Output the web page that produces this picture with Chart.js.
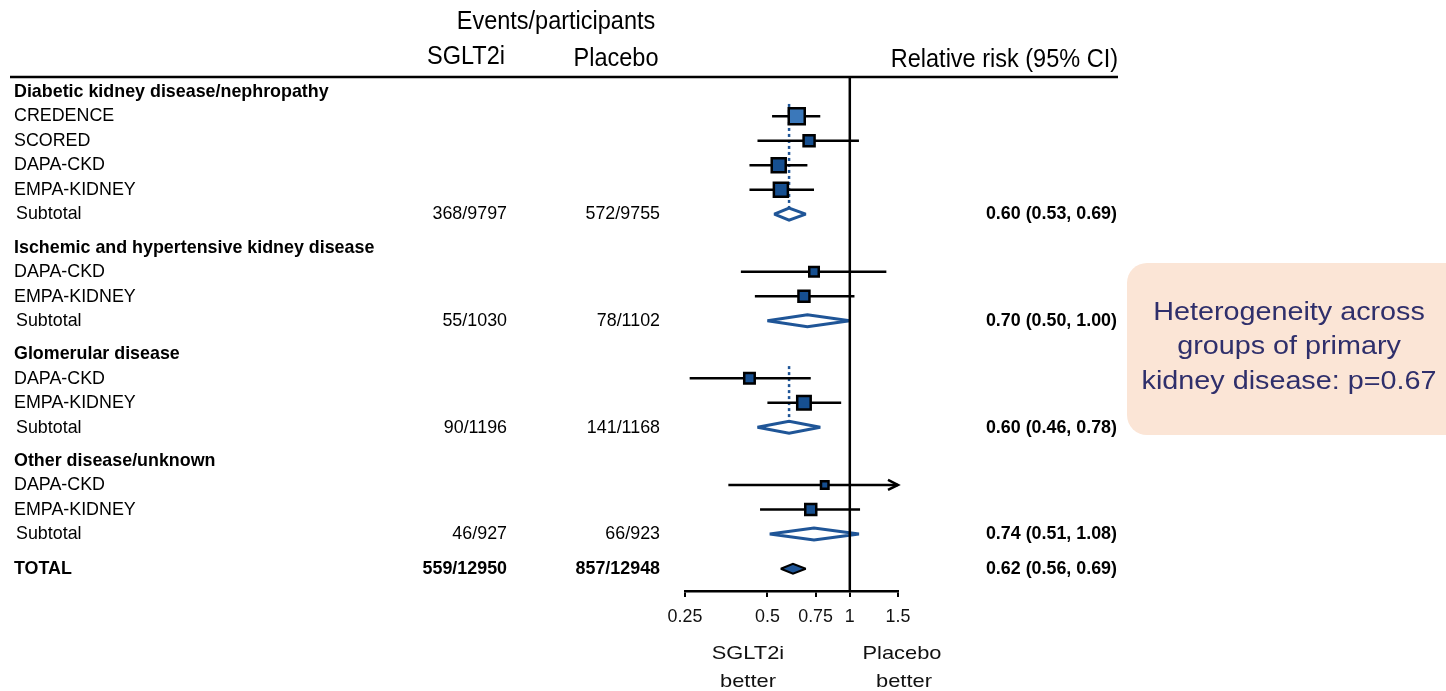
<!DOCTYPE html>
<html>
<head>
<meta charset="utf-8">
<script src="https://cdn.jsdelivr.net/npm/chart.js@4.4.0/dist/chart.umd.min.js"></script>
<style>
html, body { margin: 0; padding: 0; background: #fff; }
#wrap { width: 1446px; height: 691px; position: relative; }
</style>
</head>
<body>
<div id="wrap"><canvas id="forest"></canvas></div>
<script>
// Rows of the forest plot, top to bottom
const rowLabels = [
    'Diabetic kidney disease/nephropathy', 'CREDENCE', 'SCORED', 'DAPA-CKD', 'EMPA-KIDNEY', 'Subtotal',
    'Ischemic and hypertensive kidney disease', 'DAPA-CKD', 'EMPA-KIDNEY', 'Subtotal',
    'Glomerular disease', 'DAPA-CKD', 'EMPA-KIDNEY', 'Subtotal',
    'Other disease/unknown', 'DAPA-CKD', 'EMPA-KIDNEY', 'Subtotal',
    'TOTAL'
];
const rowTypes = [
    'head', 'trial', 'trial', 'trial', 'trial', 'sub',
    'head', 'trial', 'trial', 'sub',
    'head', 'trial', 'trial', 'sub',
    'head', 'trial', 'trial', 'sub',
    'total'
];
const sgltEvents = ['', '', '', '', '', '368/9797', '', '', '', '55/1030', '', '', '', '90/1196', '', '', '', '46/927', '559/12950'];
const placeboEvents = ['', '', '', '', '', '572/9755', '', '', '', '78/1102', '', '', '', '141/1168', '', '', '', '66/923', '857/12948'];
const riskRatio = [null, 0.64, 0.71, 0.55, 0.56, 0.60, null, 0.74, 0.68, 0.70, null, 0.43, 0.68, 0.60, null, 0.81, 0.72, 0.74, 0.62];
const ciLow     = [null, 0.52, 0.46, 0.43, 0.43, 0.53, null, 0.40, 0.45, 0.50, null, 0.26, 0.50, 0.46, null, 0.36, 0.47, 0.51, 0.56];
const ciHigh    = [null, 0.78, 1.08, 0.70, 0.74, 0.69, null, 1.36, 1.04, 1.00, null, 0.72, 0.93, 0.78, null, 1.80, 1.09, 1.08, 0.69];
// relative weight of each trial (drives box size)
const boxWeight = [0, 18.5, 13.5, 16.5, 16.5, 0, 0, 12, 13.5, 0, 0, 13, 16, 0, 0, 10, 13.5, 0, 0];
const xTicks = [0.25, 0.5, 0.75, 1, 1.5];
const noteLines = ['Heterogeneity across', 'groups of primary', 'kidney disease: p=0.67'];

// layout: vertical slot of each row (extra gap before each group and the total)
const rowSlot = [];
let slot = -1;
rowTypes.forEach((t, i) => {
    slot += 1;
    if (t === 'head' && i > 0) slot += 0.35;
    if (t === 'total') slot += 0.42;
    rowSlot.push(slot);
});
const dottedGroup = [true, false, true, false];

// fonts: narrow face stretched a bit, like the source
function fontInstalled(name) {
    const c = document.createElement('canvas').getContext('2d');
    const s = 'Events/participants 0123456789';
    c.font = '40px monospace';
    const a = c.measureText(s).width;
    c.font = '40px "' + name + '", monospace';
    return c.measureText(s).width !== a;
}
const hasNarrow = fontInstalled('Liberation Sans Narrow');
const NARROW = hasNarrow ? '"Liberation Sans Narrow", sans-serif' : '"Liberation Sans", Arial, sans-serif';
const SXN = hasNarrow ? 1.15 : 0.94;
const SANS = '"Liberation Sans", Arial, sans-serif';
const SX = 1.15;
const BLUE = '#1f5597';

function text(ctx, str, x, y, font, align, sx, color) {
    ctx.save();
    ctx.font = font;
    ctx.fillStyle = color || '#000';
    ctx.textAlign = align;
    ctx.textBaseline = 'middle';
    ctx.translate(x, y);
    ctx.scale(sx, 1);
    ctx.fillText(str, 0, 0);
    ctx.restore();
}

const trialIdx = rowTypes.map((t, i) => t === 'trial' ? i : -1).filter(i => i >= 0);

const forestPlugin = {
    id: 'forest',
    beforeDatasetsDraw(chart) {
        const ctx = chart.ctx, x = chart.scales.x, y = chart.scales.y;
        ctx.save();
        // dotted lines at the subtotal estimate
        let g = -1, head = 0;
        rowTypes.forEach((t, i) => {
            if (t === 'head') { g++; head = i; }
            if (t === 'sub' && dottedGroup[g]) {
                const px = x.getPixelForValue(riskRatio[i]);
                ctx.strokeStyle = BLUE;
                ctx.lineWidth = 2.5;
                ctx.setLineDash([3, 3]);
                ctx.beginPath();
                ctx.moveTo(px, y.getPixelForValue(rowSlot[head] + 0.5));
                ctx.lineTo(px, y.getPixelForValue(rowSlot[i] - 0.25));
                ctx.stroke();
                ctx.setLineDash([]);
            }
        });
        // confidence intervals
        ctx.strokeStyle = '#000';
        ctx.lineWidth = 2.5;
        trialIdx.forEach(i => {
            const py = y.getPixelForValue(rowSlot[i]);
            const x0 = x.getPixelForValue(Math.max(ciLow[i], x.min));
            const clipped = ciHigh[i] > x.max;
            const x1 = x.getPixelForValue(Math.min(ciHigh[i], x.max));
            ctx.beginPath();
            ctx.moveTo(x0, py);
            ctx.lineTo(x1, py);
            ctx.stroke();
            if (clipped) {
                ctx.beginPath();
                ctx.moveTo(x1 - 10, py - 5);
                ctx.lineTo(x1, py);
                ctx.lineTo(x1 - 10, py + 5);
                ctx.stroke();
            }
        });
        ctx.restore();
    },
    afterDatasetsDraw(chart) {
        const ctx = chart.ctx, x = chart.scales.x, y = chart.scales.y;
        const area = chart.chartArea;
        ctx.save();
        // diamonds
        ctx.lineJoin = 'miter';
        ctx.miterLimit = 2.5;
        rowTypes.forEach((t, i) => {
            if (t !== 'sub' && t !== 'total') return;
            const py = y.getPixelForValue(rowSlot[i]);
            const h = t === 'total' ? 5 : 6;
            ctx.beginPath();
            ctx.moveTo(x.getPixelForValue(ciLow[i]), py);
            ctx.lineTo(x.getPixelForValue(riskRatio[i]), py - h);
            ctx.lineTo(x.getPixelForValue(ciHigh[i]), py);
            ctx.lineTo(x.getPixelForValue(riskRatio[i]), py + h);
            ctx.closePath();
            if (t === 'total') {
                ctx.fillStyle = BLUE; ctx.fill();
                ctx.strokeStyle = '#000'; ctx.lineWidth = 2;
            } else {
                ctx.fillStyle = '#fff'; ctx.fill();
                ctx.strokeStyle = BLUE; ctx.lineWidth = 3;
            }
            ctx.stroke();
        });
        // line of no effect
        const p1 = x.getPixelForValue(1);
        ctx.strokeStyle = '#000';
        ctx.lineWidth = 2.5;
        ctx.beginPath();
        ctx.moveTo(p1, area.top);
        ctx.lineTo(p1, area.bottom);
        ctx.stroke();
        // header rule
        ctx.beginPath();
        ctx.moveTo(10, area.top);
        ctx.lineTo(1118, area.top);
        ctx.stroke();
        ctx.restore();

        // table text
        rowTypes.forEach((t, i) => {
            const py = y.getPixelForValue(rowSlot[i]);
            const bold = t === 'head' || t === 'total';
            const f = (bold ? 'bold ' : '') + '19px ' + NARROW;
            text(ctx, rowLabels[i], t === 'sub' ? 16 : 14, py, f, 'left', SXN);
            if (sgltEvents[i]) text(ctx, sgltEvents[i], 507, py, f, 'right', SXN);
            if (placeboEvents[i]) text(ctx, placeboEvents[i], 660, py, f, 'right', SXN);
            if (t === 'sub' || t === 'total') {
                const s = riskRatio[i].toFixed(2) + ' (' + ciLow[i].toFixed(2) + ', ' + ciHigh[i].toFixed(2) + ')';
                text(ctx, s, 1117, py, 'bold 19px ' + NARROW, 'right', SXN);
            }
        });
        // column headers
        text(ctx, 'Events/participants', 556, 22, '25px ' + NARROW, 'center', SXN);
        text(ctx, 'SGLT2i', 466, 57, '25px ' + NARROW, 'center', SXN);
        text(ctx, 'Placebo', 616, 59, '25px ' + NARROW, 'center', SXN);
        text(ctx, 'Relative risk (95% CI)', 1118, 60, '25px ' + NARROW, 'right', SXN);

        // tick labels
        x.ticks.forEach(tk => {
            text(ctx, String(tk.value), x.getPixelForValue(tk.value), 617, '19px ' + NARROW, 'center', SXN, '#111');
        });
        text(ctx, 'SGLT2i', 748, 654, '19px ' + SANS, 'center', SX, '#111');
        text(ctx, 'better', 748, 682, '19px ' + SANS, 'center', SX, '#111');
        text(ctx, 'Placebo', 902, 654, '19px ' + SANS, 'center', SX, '#111');
        text(ctx, 'better', 904, 682, '19px ' + SANS, 'center', SX, '#111');

        // heterogeneity note
        ctx.save();
        ctx.fillStyle = '#fbe5d6';
        ctx.beginPath();
        ctx.roundRect(1127, 263, 340, 172, 20);
        ctx.fill();
        ctx.restore();
        noteLines.forEach((s, k) => {
            text(ctx, s, 1289, 313 + k * 34.5, '25px ' + SANS, 'center', SX, '#2f2f6b');
        });
    }
};

new Chart(document.getElementById('forest'), {
    type: 'scatter',
    data: {
        datasets: [{
            data: trialIdx.map(i => ({ x: riskRatio[i], y: rowSlot[i] })),
            pointStyle: 'rect',
            pointRadius: trialIdx.map(i => (boxWeight[i] - 2.5) / Math.SQRT2),
            pointBackgroundColor: trialIdx.map((i, k) => k === 0 ? '#3b78ba' : '#164f90'),
            pointBorderColor: '#000',
            pointBorderWidth: 2.5,
            clip: false
        }]
    },
    options: {
        responsive: true,
        maintainAspectRatio: false,
        animation: false,
        events: [],
        layout: { padding: { left: 685, right: 548, top: 77, bottom: 94 } },
        plugins: { legend: { display: false }, tooltip: { enabled: false } },
        scales: {
            x: {
                type: 'logarithmic',
                min: 0.25,
                max: 1.5,
                afterBuildTicks: axis => { axis.ticks = xTicks.map(v => ({ value: v })); },
                ticks: { display: false },
                grid: { drawOnChartArea: false, tickLength: 6, color: '#000', lineWidth: 2 },
                border: { display: true, color: '#000', width: 2.5 }
            },
            y: {
                type: 'linear',
                display: false,
                reverse: true,
                min: -0.6,
                max: 20.38
            }
        }
    },
    plugins: [forestPlugin]
});
</script>
</body>
</html>
